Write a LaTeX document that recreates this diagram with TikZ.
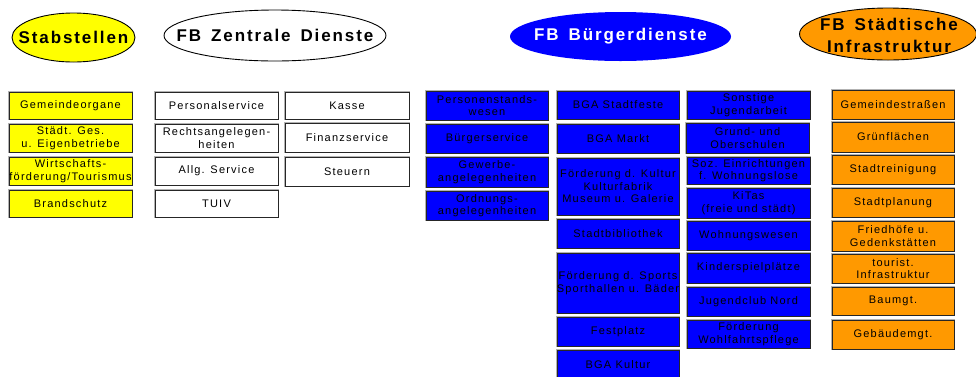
\documentclass[tikz,border=0pt]{standalone}
\usepackage{fontspec}
\setmainfont{Liberation Sans}
\newfontfamily\orgfont{Liberation Sans}[LetterSpace=11]
\newfontfamily\headfont{Liberation Sans}[LetterSpace=11.2, WordSpace=1.5]
\usetikzlibrary{shapes.geometric}

\definecolor{stabyellow}{HTML}{FFFF00}
\definecolor{infraorange}{HTML}{FF9900}
\definecolor{buergerblue}{HTML}{0000FF}

\tikzset{
  unit/.style={draw=black!85, line width=0.9pt, inner sep=0pt, outer sep=0pt,
    preaction={draw=black!30, line width=2.2pt}},
  yunit/.style={unit, fill=stabyellow},
  wunit/.style={unit, fill=white},
  bunit/.style={unit, fill=buergerblue},
  ounit/.style={unit, fill=infraorange},
  unittext/.style={align=center, inner sep=0pt, text=black,
    font=\orgfont\fontsize{11}{12.5}\selectfont},
  head/.style={ellipse, draw=black, line width=0.9pt, inner sep=0pt},
  headtext/.style={align=center, inner sep=0pt,
    font=\headfont\bfseries\fontsize{17}{22}\selectfont},
}

% #1 name, #2 style, #3/#4 upper left corner, #5/#6 lower right corner, #7 text
\newcommand\orgunit[7]{%
  \node[#2, minimum width={(#5)-(#3)}, minimum height={(#6)-(#4)}]
    (#1) at ({((#3)+(#5))/2},{((#4)+(#6))/2}) {};
  \node[unittext] (#1-t) at (#1.center) {#7};
}

\begin{document}
\begin{tikzpicture}[x=1pt, y=-1pt]
\useasboundingbox (0,0) rectangle (976,376);

% department headings
\node[head, fill=stabyellow, minimum width=123, minimum height=49] (stab) at (73.5,37.5) {};
\node[headtext] (stab-t) at (stab.center) {Stabstellen};
\node[head, fill=white, minimum width=222, minimum height=51] (zentral) at (275,35.5) {};
\node[headtext] (zentral-t) at (zentral.center) {FB Zentrale Dienste};
\node[head, draw=none, fill=buergerblue, minimum width=221, minimum height=49] (buerger) at (620.5,36.5) {};
\node[headtext, text=white] (buerger-t) at (buerger.center) {FB Bürgerdienste};
\node[head, fill=infraorange, minimum width=177, minimum height=52] (infra) at (888,34) {};
\node[headtext] (infra-t) at (889,35) {FB Städtische\\Infrastruktur};

% Stabstellen
\orgunit{sg1}{yunit}{9}{92}{132}{119}{Gemeindeorgane}
\orgunit{sg2}{yunit}{9}{124}{132}{152}{Städt. Ges.\\u. Eigenbetriebe}
\orgunit{sg3}{yunit}{9}{157}{132}{185}{Wirtschafts-\\förderung/Tourismus}
\orgunit{sg4}{yunit}{9}{190}{132}{217}{Brandschutz}

% FB Zentrale Dienste
\orgunit{zd1}{wunit}{155}{92}{278}{119}{Personalservice}
\orgunit{zd2}{wunit}{155}{124}{278}{152}{Rechtsangelegen-\\heiten}
\orgunit{zd3}{wunit}{155}{157}{278}{185}{Allg. Service}
\orgunit{zd4}{wunit}{155}{190}{278}{217}{TUIV}
\orgunit{zd5}{wunit}{285}{92}{409}{119}{Kasse}
\orgunit{zd6}{wunit}{285}{123}{409}{152}{Finanzservice}
\orgunit{zd7}{wunit}{285}{157}{409}{186}{Steuern}

% FB Bürgerdienste
\orgunit{bd1}{bunit}{426}{91}{548}{120}{Personenstands-\\wesen}
\orgunit{bd2}{bunit}{426}{124}{548}{153}{Bürgerservice}
\orgunit{bd3}{bunit}{426}{157}{548}{187}{Gewerbe-\\angelegenheiten}
\orgunit{bd4}{bunit}{426}{191}{548}{220}{Ordnungs-\\angelegenheiten}

\orgunit{bd5}{bunit}{557}{91}{679}{119}{BGA Stadtfeste}
\orgunit{bd6}{bunit}{557}{124}{679}{153}{BGA Markt}
\orgunit{bd7}{bunit}{557}{158}{679}{215}{Förderung d. Kultur\\Kulturfabrik\\Museum u. Galerie}
\orgunit{bd8}{bunit}{557}{219}{679}{248}{Stadtbibliothek}
\orgunit{bd9}{bunit}{557}{253}{679}{313}{Förderung d. Sports\\Sporthallen u. Bäder}
\orgunit{bd10}{bunit}{557}{317}{679}{346}{Festplatz}
\orgunit{bd11}{bunit}{557}{350}{679}{380}{BGA Kultur}

\orgunit{bd12}{bunit}{687}{91}{810}{119}{Sonstige\\Jugendarbeit}
\orgunit{bd13}{bunit}{686}{123}{809}{153}{Grund- und\\Oberschulen}
\orgunit{bd14}{bunit}{687}{157}{810}{184}{Soz. Einrichtungen\\f. Wohnungslose}
\orgunit{bd15}{bunit}{687}{188}{810}{218}{KiTas\\(freie und städt)}
\orgunit{bd16}{bunit}{687}{221}{810}{250}{Wohnungswesen}
\orgunit{bd17}{bunit}{687}{253}{810}{283}{Kinderspielplätze}
\orgunit{bd18}{bunit}{687}{287}{810}{316}{Jugendclub Nord}
\orgunit{bd19}{bunit}{687}{320}{810}{348}{Förderung\\Wohlfahrtspflege}

% FB Städtische Infrastruktur
\orgunit{si1}{ounit}{832}{90}{954}{119}{Gemeindestraßen}
\orgunit{si2}{ounit}{832}{122}{954}{152}{Grünflächen}
\orgunit{si3}{ounit}{832}{155}{954}{184}{Stadtreinigung}
\orgunit{si4}{ounit}{832}{188}{954}{217}{Stadtplanung}
\orgunit{si5}{ounit}{832}{221}{954}{251}{Friedhöfe u.\\Gedenkstätten}
\orgunit{si6}{ounit}{832}{254}{954}{283}{tourist.\\Infrastruktur}
\orgunit{si7}{ounit}{832}{287}{954}{315}{Baumgt.}
\orgunit{si8}{ounit}{832}{320}{954}{349}{Gebäudemgt.}
\end{tikzpicture}
\end{document}
